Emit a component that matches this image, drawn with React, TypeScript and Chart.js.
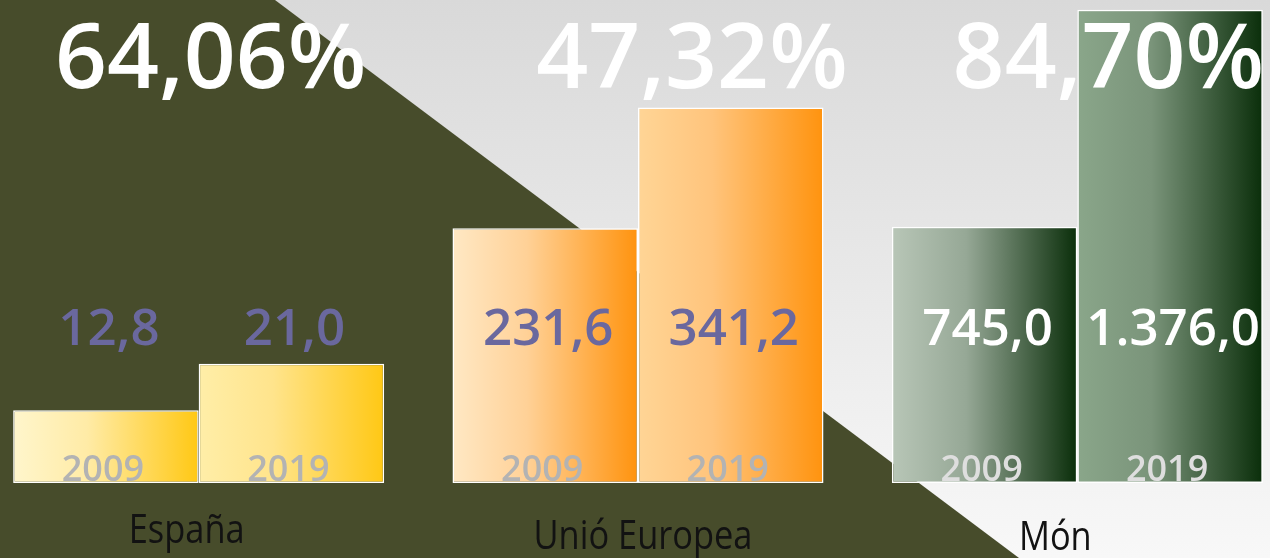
import { useEffect, useRef } from "react";
import { Chart, registerables } from "chart.js";

Chart.register(...registerables);

// ---- data ----
const categories = ["España", "Unió Europea", "Món"];
const years = ["2009", "2019"];
const values2009 = [12.8, 231.6, 745.0];
const values2019 = [21.0, 341.2, 1376.0];
const seriesValues = [values2009, values2019];

// ---- styles ----
const W = 1270;
const H = 558;
const SHIFT = 21; // canvas is shifted left so the category bands line up
const CAT_PCT = 0.8445;
const axisMax = [85, 439, 1404];

const fills: string[][][] = [
  [
    ["#fff6cc", "#ffeba6", "#ffc814"],
    ["#ffeea8", "#ffe48c", "#ffc814"],
  ],
  [
    ["#ffe8c4", "#ffd197", "#ff930e"],
    ["#ffd596", "#ffc47c", "#ff930e"],
  ],
  [
    ["#b8c6b7", "#96a896", "#0a2e0a"],
    ["#8aa68a", "#7a947a", "#0a2e0a"],
  ],
];
const valueColors = ["#6a689e", "#6a689e", "#ffffff"];
const yearColors = ["#b3b3b3", "#b3b3b3", "#dedede"];
const titleDx = [12, 54, 31];
const labelDx = [-12, 5, -22];
const labelBaseline = [543, 549, 550];

function fmt(v: number, digits: number): string {
  const [int, dec] = v.toFixed(digits).split(".");
  const grouped = int.replace(/\B(?=(\d{3})+(?!\d))/g, ".");
  return dec ? grouped + "," + dec : grouped;
}

function gradientFor(ctx: any, ci: number, yi: number) {
  const chart = ctx.chart;
  const xs = chart.scales && chart.scales.x;
  const stops = fills[ci][yi];
  if (!xs || !chart.chartArea) return stops[1];
  const center = xs.getPixelForValue(ci);
  const catW = xs.getPixelForValue(1) - xs.getPixelForValue(0);
  const half = (catW * CAT_PCT) / 2;
  const left = center - half + yi * half;
  const g = chart.ctx.createLinearGradient(left, 0, left + half, 0);
  g.addColorStop(0, stops[0]);
  g.addColorStop(0.4, stops[1]);
  g.addColorStop(1, stops[2]);
  return g;
}

const backgroundPlugin = {
  id: "bgShape",
  beforeDraw(chart: any) {
    const ctx = chart.ctx;
    ctx.save();
    const g = ctx.createLinearGradient(0, 0, 0, H);
    g.addColorStop(0, "#d9d9d9");
    g.addColorStop(1, "#f8f8f8");
    ctx.fillStyle = g;
    ctx.fillRect(0, 0, chart.width, chart.height);
    ctx.fillStyle = "#474c2b";
    ctx.beginPath();
    ctx.moveTo(0, 0);
    ctx.lineTo(SHIFT + 275, 0);
    ctx.lineTo(SHIFT + 1019, H);
    ctx.lineTo(0, H);
    ctx.closePath();
    ctx.fill();
    ctx.restore();
  },
};

const labelsPlugin = {
  id: "textLabels",
  afterDatasetsDraw(chart: any) {
    const ctx = chart.ctx;
    const area = chart.chartArea;
    const xs = chart.scales.x;
    ctx.save();
    ctx.textAlign = "center";
    ctx.textBaseline = "alphabetic";
    chart.data.datasets.forEach((ds: any, d: number) => {
      const ci = ds.catIndex;
      const yi = ds.yearIndex;
      const el = chart.getDatasetMeta(d).data[ci];
      if (!el) return;
      const v = seriesValues[yi][ci];
      ctx.fillStyle = valueColors[ci];
      ctx.font = "600 51px 'Open Sans'";
      ctx.fillText(fmt(v, 1), el.x + 3, area.bottom - 138);
      ctx.fillStyle = yearColors[ci];
      ctx.font = "600 36px 'Open Sans'";
      ctx.fillText(years[yi], el.x - 3, area.bottom - 2);
    });
    categories.forEach((c, ci) => {
      const cx = xs.getPixelForValue(ci);
      const growth = ((values2019[ci] - values2009[ci]) / values2009[ci]) * 100;
      ctx.fillStyle = "#ffffff";
      ctx.font = "600 91px 'Open Sans'";
      ctx.fillText(fmt(growth, 2) + "%", cx + titleDx[ci], 88);
      ctx.save();
      ctx.translate(cx + labelDx[ci], labelBaseline[ci]);
      ctx.scale(0.86, 1);
      ctx.fillStyle = "#121212";
      ctx.font = "400 40px 'Open Sans'";
      ctx.fillText(c, 0, 0);
      ctx.restore();
    });
    ctx.restore();
  },
};

export default function App() {
  const ref = useRef<HTMLCanvasElement | null>(null);

  useEffect(() => {
    document.body.style.margin = "0";
    const canvas = ref.current;
    if (!canvas) return;
    const datasets: any[] = [];
    categories.forEach((c, ci) => {
      seriesValues.forEach((vals, yi) => {
        datasets.push({
          label: `${c} ${years[yi]}`,
          catIndex: ci,
          yearIndex: yi,
          data: categories.map((_, k) => (k === ci ? vals[ci] : null)),
          yAxisID: `y${ci}`,
          stack: `s${ci}-${yi}`,
          backgroundColor: (ctx: any) => gradientFor(ctx, ci, yi),
          borderColor: "#ffffff",
          borderWidth: 1.5,
          borderSkipped: false,
          categoryPercentage: CAT_PCT,
          barPercentage: 1,
          skipNull: true,
        });
      });
    });
    const scales: any = {
      x: { type: "category", display: false, offset: true, grid: { display: false } },
    };
    categories.forEach((_, ci) => {
      scales[`y${ci}`] = {
        type: "linear",
        display: false,
        min: 0,
        max: axisMax[ci],
        stacked: false,
      };
    });
    const chart = new Chart(canvas, {
      type: "bar",
      data: { labels: categories, datasets },
      options: {
        animation: false,
        responsive: false,
        devicePixelRatio: 1,
        layout: { padding: { left: 0, right: 0, top: 0, bottom: 75 } },
        plugins: { legend: { display: false }, tooltip: { enabled: false } },
        scales,
      },
      plugins: [backgroundPlugin, labelsPlugin],
    });
    return () => chart.destroy();
  }, []);

  return (
    <div style={{ position: "relative", width: W, height: H, overflow: "hidden" }}>
      <canvas
        ref={ref}
        width={W + 2 * SHIFT + 6}
        height={H}
        style={{ position: "absolute", left: -SHIFT, top: 0 }}
      />
    </div>
  );
}
